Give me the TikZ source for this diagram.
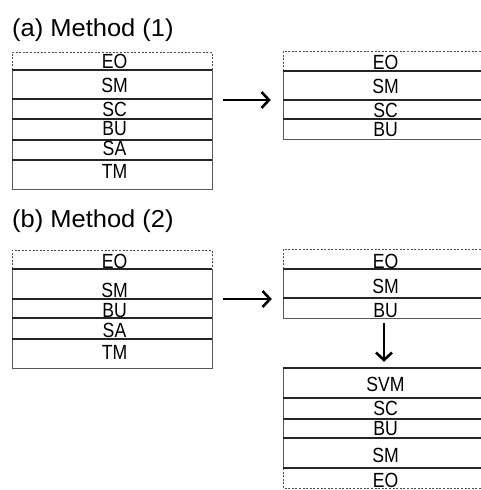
\documentclass[tikz,border=0pt]{standalone}
\usepackage{fontspec}
\setmainfont{Liberation Sans}
\usetikzlibrary{arrows.meta}
% narrow the layer labels, widen the headings
\newcommand\narrowtxt[1]{\scalebox{0.86}[1]{#1}}
\newcommand\widetxt[1]{\scalebox{1.04}[1]{#1}}
\begin{document}
\begin{tikzpicture}[x=1pt,y=-1pt,
  layer/.style={line width=1.1pt, black!85},
  outer/.style={line width=0.7pt, black!65},
  edge/.style={line width=0.8pt, black!70, dash pattern=on 2pt off 1.6pt},
  lbl/.style={font=\fontsize{20.5}{21}\selectfont, inner sep=0pt, anchor=base,
              text height=14pt, text depth=0pt},
  ttl/.style={font=\fontsize{24.5}{27}\selectfont, inner sep=0pt, anchor=base west},
  flow/.style={line width=2.8pt, -{Straight Barb[length=7.5pt,width=16pt,line width=2.6pt]}},
  stack/.style={minimum width=200pt, inner sep=0pt, draw=none}]
\useasboundingbox (0,0) rectangle (480,490);

% ---------- (a) Method (1) ----------
\node[ttl] (ta) at (12,36.5) {\widetxt{(a) Method (1)}};

% left stack
\node[stack, minimum height=137pt] (a1) at (112,120.5) {};
\draw[edge] (12,70) -- (12,52) -- (212,52) -- (212,70);
\draw[outer] (12,70) -- (12,189) -- (212,189) -- (212,70);
\foreach \y in {70,99,119,140,160} \draw[layer] (12,\y) -- (212,\y);
\node[lbl] (a1eo) at (114.5,68)  {\narrowtxt{EO}};
\node[lbl] (a1sm) at (114.5,92.5){\narrowtxt{SM}};
\node[lbl] (a1sc) at (114.5,116) {\narrowtxt{SC}};
\node[lbl] (a1bu) at (114.5,135.5){\narrowtxt{BU}};
\node[lbl] (a1sa) at (114.5,155){\narrowtxt{SA}};
\node[lbl] (a1tm) at (114.5,178.5){\narrowtxt{TM}};

% right stack
\node[stack, minimum height=88pt] (a2) at (383,95) {};
\draw[edge] (283,71) -- (283,51) -- (483,51) -- (483,71);
\draw[outer] (283,71) -- (283,139) -- (483,139) -- (483,71);
\foreach \y in {71,100,119} \draw[layer] (283,\y) -- (483,\y);
\node[lbl] (a2eo) at (385.5,69)  {\narrowtxt{EO}};
\node[lbl] (a2sm) at (385.5,93)  {\narrowtxt{SM}};
\node[lbl] (a2sc) at (385.5,117) {\narrowtxt{SC}};
\node[lbl] (a2bu) at (385.5,136) {\narrowtxt{BU}};

\draw[flow, shorten <=11pt, shorten >=12pt] (a1.east |- 0,100) -- (a2.west |- 0,100);

% ---------- (b) Method (2) ----------
\node[ttl] (tb) at (12,227.5) {\widetxt{(b) Method (2)}};

% left stack
\node[stack, minimum height=118pt] (b1) at (112,309) {};
\draw[edge] (12,269) -- (12,250) -- (212,250) -- (212,269);
\draw[outer] (12,269) -- (12,368) -- (212,368) -- (212,269);
\foreach \y in {269,299,318,339} \draw[layer] (12,\y) -- (212,\y);
\node[lbl] (b1eo) at (114.5,268) {\narrowtxt{EO}};
\node[lbl] (b1sm) at (114.5,297) {\narrowtxt{SM}};
\node[lbl] (b1bu) at (114.5,317) {\narrowtxt{BU}};
\node[lbl] (b1sa) at (114.5,337) {\narrowtxt{SA}};
\node[lbl] (b1tm) at (114.5,359) {\narrowtxt{TM}};

% right upper stack
\node[stack, minimum height=69pt] (b2) at (383,283.5) {};
\draw[edge] (283,269) -- (283,249) -- (483,249) -- (483,269);
\draw[outer] (283,269) -- (283,318) -- (483,318) -- (483,269);
\foreach \y in {269,298} \draw[layer] (283,\y) -- (483,\y);
\node[lbl] (b2eo) at (385.5,268) {\narrowtxt{EO}};
\node[lbl] (b2sm) at (385.5,293) {\narrowtxt{SM}};
\node[lbl] (b2bu) at (385.5,317) {\narrowtxt{BU}};

% right lower stack
\node[stack, minimum height=120pt] (b3) at (383,428) {};
\draw[outer] (283,468) -- (283,368) -- (483,368) -- (483,468);
\draw[edge] (283,468) -- (283,488) -- (483,488) -- (483,468);
\foreach \y in {368,398,419,438,468} \draw[layer] (283,\y) -- (483,\y);
\node[lbl] (b3svm) at (385.5,391) {\narrowtxt{SVM}};
\node[lbl] (b3sc)  at (385.5,415) {\narrowtxt{SC}};
\node[lbl] (b3bu)  at (385.5,435.5){\narrowtxt{BU}};
\node[lbl] (b3sm)  at (385.5,462.5){\narrowtxt{SM}};
\node[lbl] (b3eo)  at (385.5,487) {\narrowtxt{EO}};

\draw[flow, shorten <=11pt, shorten >=11pt] (b1.east |- 0,299) -- (b2.west |- 0,299);
\draw[flow, shorten <=5pt, shorten >=6pt] (b2.south -| 384,0) -- (b3.north -| 384,0);
\end{tikzpicture}
\end{document}
